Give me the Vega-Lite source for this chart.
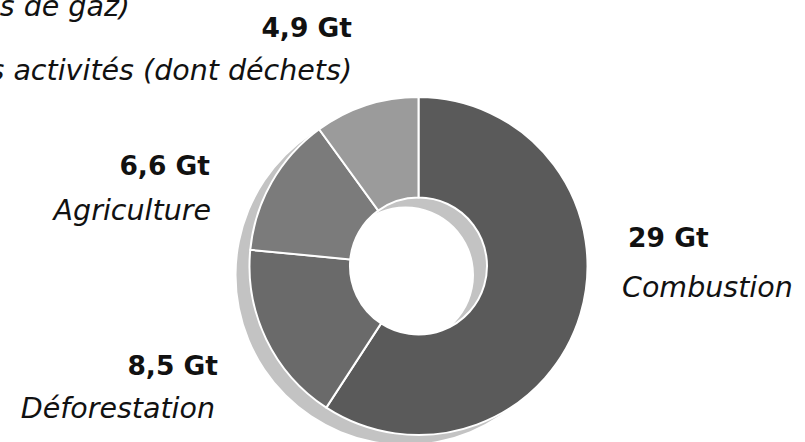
{
  "$schema": "https://vega.github.io/schema/vega-lite/v6.json",
  "autosize": {"type": "none"},
  "padding": {"left": 32, "top": 90, "right": 0, "bottom": 0},
  "width": 773,
  "height": 352,
  "background": "white",
  "view": {"stroke": null},
  "title": {
    "text": "(en gigatonnes d'équivalent CO2, tous types de gaz)",
    "anchor": "start",
    "frame": "group",
    "align": "right",
    "baseline": "alphabetic",
    "dx": 98,
    "dy": 69,
    "offset": 3,
    "font": "DejaVu Sans",
    "fontSize": 28.5,
    "fontStyle": "italic",
    "fontWeight": "normal",
    "color": "#111111"
  },
  "data": {
    "values": [
      {"categorie": "Combustion", "valeur": 29, "etiquette": "29 Gt"},
      {"categorie": "Déforestation", "valeur": 8.5, "etiquette": "8,5 Gt"},
      {"categorie": "Agriculture", "valeur": 6.6, "etiquette": "6,6 Gt"},
      {"categorie": "Autres activités (dont déchets)", "valeur": 4.9, "etiquette": "4,9 Gt"}
    ]
  },
  "encoding": {
    "theta": {"field": "valeur", "type": "quantitative", "stack": true},
    "order": {"field": "valeur", "type": "quantitative", "sort": "descending"}
  },
  "layer": [
    {
      "transform": [{"aggregate": [{"op": "sum", "field": "valeur", "as": "valeur"}]}],
      "mark": {"type": "arc", "innerRadius": 68.5, "outerRadius": 169, "fill": "#c3c3c3", "xOffset": -13, "yOffset": 9}
    },
    {
      "mark": {"type": "arc", "innerRadius": 68.5, "outerRadius": 169, "stroke": "#ffffff", "strokeWidth": 2},
      "encoding": {
        "color": {
          "field": "categorie",
          "type": "nominal",
          "scale": {
            "domain": ["Combustion", "Déforestation", "Agriculture", "Autres activités (dont déchets)"],
            "range": ["#5a5a5a", "#6a6a6a", "#7b7b7b", "#9b9b9b"]
          },
          "legend": null
        }
      }
    },
    {
      "mark": {"type": "text", "radius": 200, "align": "left", "baseline": "alphabetic", "dx": 17.8, "dy": -75.9, "font": "DejaVu Sans", "fontSize": 26.5, "fontWeight": "bold", "color": "#111111"},
      "encoding": {"detail": {"field": "categorie"}, "text": {"condition": {"test": "datum.categorie === 'Combustion'", "field": "etiquette"}, "value": ""}}
    },
    {
      "mark": {"type": "text", "radius": 200, "align": "left", "baseline": "alphabetic", "dx": 11.8, "dy": -25.9, "font": "DejaVu Sans", "fontSize": 28.5, "fontStyle": "italic", "color": "#111111"},
      "encoding": {"detail": {"field": "categorie"}, "text": {"condition": {"test": "datum.categorie === 'Combustion'", "field": "categorie"}, "value": ""}}
    },
    {
      "mark": {"type": "text", "radius": 200, "align": "right", "baseline": "alphabetic", "dx": -20.3, "dy": 22.2, "font": "DejaVu Sans", "fontSize": 26.5, "fontWeight": "bold", "color": "#111111"},
      "encoding": {"detail": {"field": "categorie"}, "text": {"condition": {"test": "datum.categorie === 'Déforestation'", "field": "etiquette"}, "value": ""}}
    },
    {
      "mark": {"type": "text", "radius": 200, "align": "right", "baseline": "alphabetic", "dx": -23.3, "dy": 65.2, "font": "DejaVu Sans", "fontSize": 28.5, "fontStyle": "italic", "color": "#111111"},
      "encoding": {"detail": {"field": "categorie"}, "text": {"condition": {"test": "datum.categorie === 'Déforestation'", "field": "categorie"}, "value": ""}}
    },
    {
      "mark": {"type": "text", "radius": 200, "align": "right", "baseline": "alphabetic", "dx": -34.9, "dy": 8.3, "font": "DejaVu Sans", "fontSize": 26.5, "fontWeight": "bold", "color": "#111111"},
      "encoding": {"detail": {"field": "categorie"}, "text": {"condition": {"test": "datum.categorie === 'Agriculture'", "field": "etiquette"}, "value": ""}}
    },
    {
      "mark": {"type": "text", "radius": 200, "align": "right", "baseline": "alphabetic", "dx": -33.9, "dy": 53.3, "font": "DejaVu Sans", "fontSize": 28.5, "fontStyle": "italic", "color": "#111111"},
      "encoding": {"detail": {"field": "categorie"}, "text": {"condition": {"test": "datum.categorie === 'Agriculture'", "field": "categorie"}, "value": ""}}
    },
    {
      "mark": {"type": "text", "radius": 200, "align": "right", "baseline": "alphabetic", "dx": -4.7, "dy": -38.8, "font": "DejaVu Sans", "fontSize": 26.5, "fontWeight": "bold", "color": "#111111"},
      "encoding": {"detail": {"field": "categorie"}, "text": {"condition": {"test": "datum.categorie === 'Autres activités (dont déchets)'", "field": "etiquette"}, "value": ""}}
    },
    {
      "mark": {"type": "text", "radius": 200, "align": "right", "baseline": "alphabetic", "dx": -4.7, "dy": 4.2, "font": "DejaVu Sans", "fontSize": 28.5, "fontStyle": "italic", "color": "#111111"},
      "encoding": {"detail": {"field": "categorie"}, "text": {"condition": {"test": "datum.categorie === 'Autres activités (dont déchets)'", "field": "categorie"}, "value": ""}}
    }
  ]
}
